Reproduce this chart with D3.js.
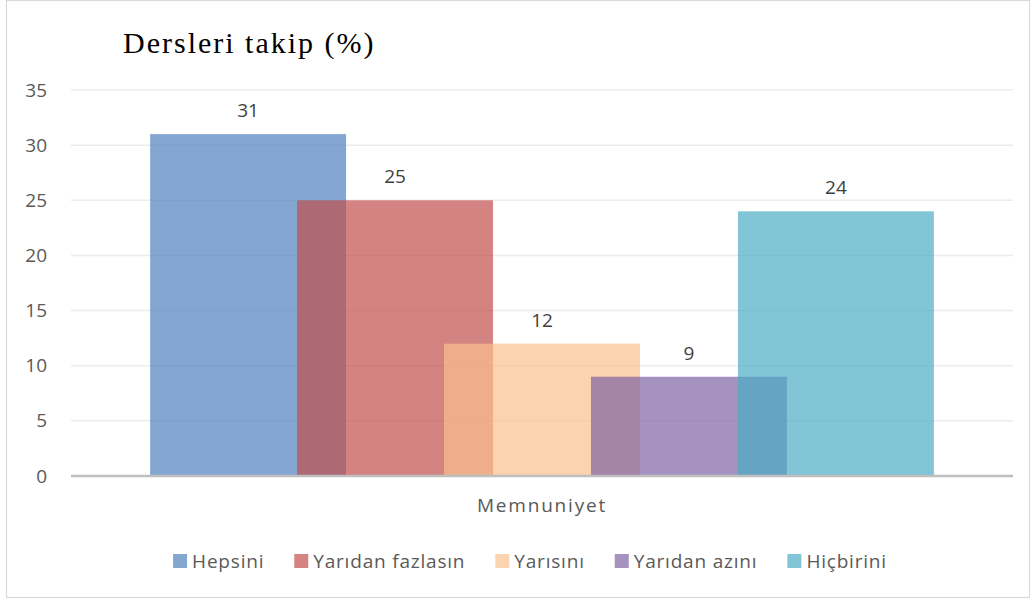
<!DOCTYPE html>
<html>
<head>
<meta charset="utf-8">
<script src="https://cdn.jsdelivr.net/npm/d3@7"></script>
<style>
  body { margin: 0; background: #fff; }
  svg text { font-family: 'Open Sans', sans-serif; }
</style>
</head>
<body>
<div id="vis"></div>
<script>
'use strict';

//data
var categories = ['Memnuniyet'];
var series = ['Hepsini', 'Yarıdan fazlasın', 'Yarısını', 'Yarıdan azını', 'Hiçbirini'];
var values = [31, 25, 12, 9, 24];
var colors = ['#4f81bd', '#c0504d', '#fac090', '#8064a2', '#4bacc6'];
var yTicks = [0, 5, 10, 15, 20, 25, 30, 35];
var title = 'Dersleri takip (%)';

//layout
var W = 1031, H = 600;
var plot = { left: 71, right: 1013, top: 90, bottom: 476 };

var svg = d3.select('#vis').append('svg')
    .attr('width', W)
    .attr('height', H);

//chart frame
svg.append('rect')
    .attr('x', 6.5).attr('y', 0.5)
    .attr('width', W - 8).attr('height', H - 3)
    .attr('fill', '#fff')
    .attr('stroke', '#d9d9d9')
    .attr('stroke-width', 1.2);

var y = d3.scaleLinear().domain([0, 35]).range([plot.bottom, plot.top]);
var x0 = d3.scaleBand().domain(categories).range([plot.left, plot.right]);
var pad = x0.bandwidth() * 0.188;

//gridlines
svg.append('g').selectAll('line')
    .data(yTicks.slice(1))
    .enter().append('line')
    .attr('x1', plot.left).attr('x2', plot.right)
    .attr('y1', function (d) { return y(d); })
    .attr('y2', function (d) { return y(d); })
    .attr('stroke', '#ececec')
    .attr('stroke-width', 1.5);

//y axis labels
var yAxis = d3.axisLeft(y).tickValues(yTicks).tickSize(0).tickPadding(0);
var gy = svg.append('g')
    .attr('transform', 'translate(47,0)')
    .call(yAxis);
gy.select('.domain').remove();
gy.selectAll('text')
    .attr('font-size', 19)
    .attr('fill', '#595959')
    .attr('font-family', "'Open Sans', sans-serif");

//bars
categories.forEach(function (cat) {
    var x1 = d3.scalePoint().domain(series)
        .range([x0(cat) + pad, x0(cat) + x0.bandwidth() - pad]);
    var barW = x1.step() * 4 / 3;

    svg.append('g').selectAll('rect')
        .data(series)
        .enter().append('rect')
        .attr('x', function (d) { return x1(d) - barW / 2; })
        .attr('y', function (d, i) { return y(values[i]); })
        .attr('width', barW)
        .attr('height', function (d, i) { return y(0) - y(values[i]); })
        .attr('fill', function (d, i) { return colors[i]; })
        .attr('fill-opacity', 0.7);

    svg.append('g').selectAll('text')
        .data(series)
        .enter().append('text')
        .attr('x', function (d) { return x1(d); })
        .attr('y', function (d, i) { return y(values[i]) - 17; })
        .attr('text-anchor', 'middle')
        .attr('font-size', 19)
        .attr('fill', '#404040')
        .text(function (d, i) { return values[i]; });

    svg.append('text')
        .attr('x', x0(cat) + x0.bandwidth() / 2)
        .attr('y', 512)
        .attr('text-anchor', 'middle')
        .attr('font-size', 19)
        .attr('letter-spacing', 1.8)
        .attr('fill', '#595959')
        .text(cat);
});

//baseline
svg.append('line')
    .attr('x1', plot.left).attr('x2', plot.right)
    .attr('y1', y(0)).attr('y2', y(0))
    .attr('stroke', '#bfbfbf')
    .attr('stroke-width', 2.5);

//title
svg.append('text')
    .attr('x', 123)
    .attr('y', 53)
    .attr('font-size', 30)
    .attr('letter-spacing', 2)
    .attr('fill', '#000')
    .style('font-family', "'Liberation Serif', 'Times New Roman', serif")
    .text(title);

//legend
var legend = svg.append('g');
var lx = 0;
series.forEach(function (s, i) {
    var item = legend.append('g').attr('transform', 'translate(' + lx + ',0)');
    item.append('rect')
        .attr('x', 0).attr('y', -7)
        .attr('width', 14).attr('height', 14)
        .attr('fill', colors[i])
        .attr('fill-opacity', 0.7);
    var t = item.append('text')
        .attr('x', 19).attr('y', 7)
        .attr('font-size', 19)
        .attr('letter-spacing', 0.8)
        .attr('fill', '#595959')
        .text(s);
    lx += 19 + t.node().getComputedTextLength() + 30;
});
lx -= 30;
legend.attr('transform', 'translate(' + (530 - lx / 2) + ',561)');
</script>
</body>
</html>
